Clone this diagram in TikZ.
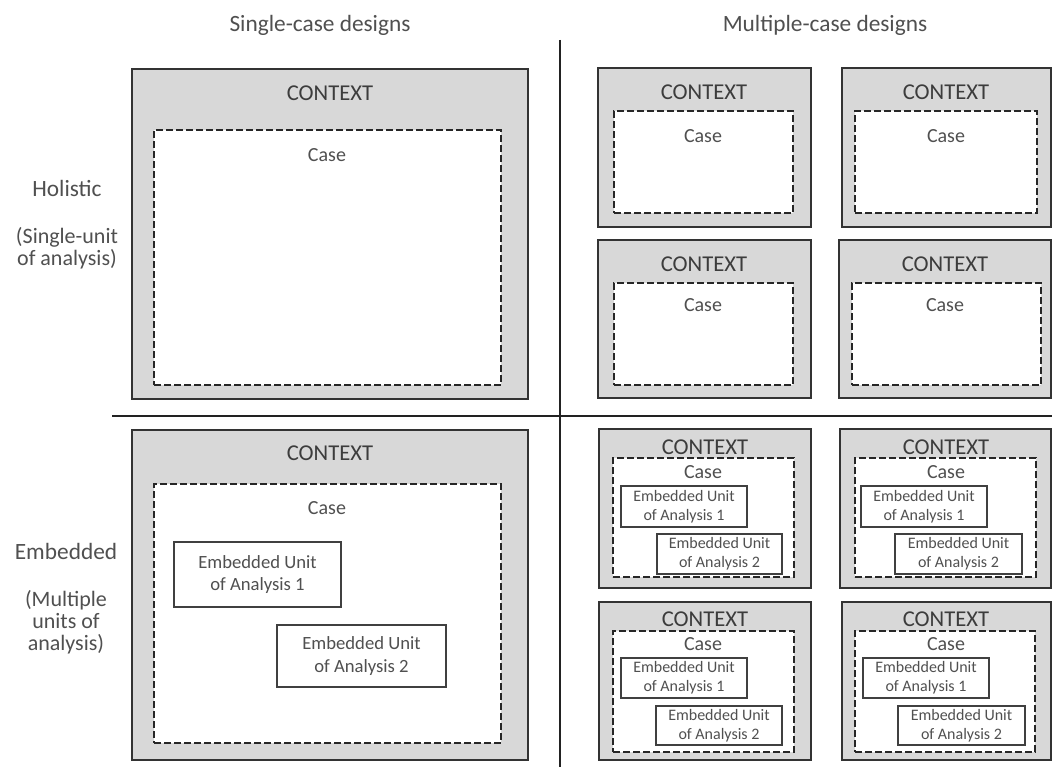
\documentclass[tikz,border=0pt]{standalone}
\usepackage{fontspec}
\setmainfont{Carlito}
\definecolor{ctxfill}{HTML}{D8D8D8}
\definecolor{labeltext}{HTML}{505050}
\definecolor{ctxtext}{HTML}{3C3C3C}
\definecolor{rule}{HTML}{222222}
\begin{document}
\begin{tikzpicture}[x=0.75pt,y=-0.75pt,
  sz/.style 2 args={minimum width=#1*0.75pt, minimum height=#2*0.75pt},
  ctx/.style={draw=black!80, line width=1.3pt, fill=ctxfill, inner sep=0pt},
  casebox/.style={draw=black!85, line width=1.1pt, dash pattern=on 5pt off 2.5pt, fill=white, inner sep=0pt},
  unitbox/.style={draw=black!75, line width=0.8pt, fill=white, inner sep=0pt, align=center, text=labeltext},
  bigunit/.style={unitbox, font=\fontsize{14}{17}\selectfont},
  smallunit/.style={unitbox, font=\fontsize{12}{14.5}\selectfont},
  head/.style={text=labeltext, font=\fontsize{17.5}{20}\selectfont},
  side/.style={text=labeltext, align=center, font=\fontsize{16.5}{16.5}\selectfont},
  ctxlabel/.style={text=ctxtext, font=\fontsize{17}{20}\selectfont},
  caselabel/.style={text=labeltext, font=\fontsize{15}{18}\selectfont},
  divider/.style={draw=rule, line width=1.5pt}
]
\useasboundingbox[fill=white] (0,0) rectangle (1052,767);

% column headings
\node[head] (hsingle) at (320,25) {Single-case designs};
\node[head] (hmulti) at (825,25) {Multiple-case designs};

% row headings
\node[side, font=\fontsize{17.5}{20}\selectfont] (holistic) at (67,188) {Holistic};
\node[side] (holisticsub) at (67,248) {(Single-unit\\of analysis)};
\node[side, font=\fontsize{17.5}{20}\selectfont] (embedded) at (66,551) {Embedded};
\node[side] (embeddedsub) at (66,622) {(Multiple\\units of\\analysis)};

% quadrant dividers
\coordinate (vtop) at (560,40);
\coordinate (vbot) at (560,767);
\coordinate (hleft) at (112,416);
\coordinate (hright) at (1052,416);
\draw[divider] (vtop) -- (vbot);
\draw[divider] (hleft) -- (hright);

% ---- single-case, holistic
\node[ctx, sz={396}{330}] (sh) at (330,234) {};
\node[casebox, sz={347}{255}] (shc) at (327.5,257.5) {};
\node[ctxlabel] (shl) at (330,93) {CONTEXT};
\node[caselabel] (shcl) at (327,155) {Case};

% ---- single-case, embedded
\node[ctx, sz={396}{330}] (se) at (330,595) {};
\node[casebox, sz={347}{259}] (sec) at (327.5,613.5) {};
\node[ctxlabel] (sel) at (330,453) {CONTEXT};
\node[caselabel] (secl) at (327,508) {Case};
\node[bigunit, sz={167}{65}] (seu1) at (257.5,574.5) {Embedded Unit\\of Analysis 1};
\node[bigunit, sz={169}{62}] (seu2) at (361.5,656) {Embedded Unit\\of Analysis 2};

% ---- multiple-case, holistic
\node[ctx, sz={213}{159}] (mh1) at (704.5,147.5) {};
\node[casebox, sz={179}{102}] (mh1c) at (703.5,162) {};
\node[ctxlabel] (mh1l) at (704,92) {CONTEXT};
\node[caselabel] (mh1cl) at (703,136) {Case};

\node[ctx, sz={209}{159}] (mh2) at (946.5,147.5) {};
\node[casebox, sz={182}{102}] (mh2c) at (946,162) {};
\node[ctxlabel] (mh2l) at (946,92) {CONTEXT};
\node[caselabel] (mh2cl) at (946,136) {Case};

\node[ctx, sz={213}{158}] (mh3) at (704.5,319) {};
\node[casebox, sz={179}{102}] (mh3c) at (703.5,334) {};
\node[ctxlabel] (mh3l) at (704,264) {CONTEXT};
\node[caselabel] (mh3cl) at (703,305) {Case};

\node[ctx, sz={212}{158}] (mh4) at (945,319) {};
\node[casebox, sz={189}{102}] (mh4c) at (946.5,334) {};
\node[ctxlabel] (mh4l) at (945,264) {CONTEXT};
\node[caselabel] (mh4cl) at (945,305) {Case};

% ---- multiple-case, embedded
\node[ctx, sz={212}{159}] (me1) at (705,508.5) {};
\node[casebox, sz={181}{119}] (me1c) at (703.5,517.5) {};
\node[ctxlabel] (me1l) at (705,447) {CONTEXT};
\node[caselabel] (me1cl) at (703,472) {Case};
\node[smallunit, sz={126}{41}] (me1u1) at (684,506.5) {Embedded Unit\\of Analysis 1};
\node[smallunit, sz={125}{40}] (me1u2) at (719.5,554) {Embedded Unit\\of Analysis 2};

\node[ctx, sz={211}{159}] (me2) at (945.5,508.5) {};
\node[casebox, sz={181}{119}] (me2c) at (945.5,517.5) {};
\node[ctxlabel] (me2l) at (946,447) {CONTEXT};
\node[caselabel] (me2cl) at (946,472) {Case};
\node[smallunit, sz={126}{41}] (me2u1) at (924,506.5) {Embedded Unit\\of Analysis 1};
\node[smallunit, sz={127}{40}] (me2u2) at (958.5,554) {Embedded Unit\\of Analysis 2};

\node[ctx, sz={212}{158}] (me3) at (705,681) {};
\node[casebox, sz={181}{121}] (me3c) at (703.5,691.5) {};
\node[ctxlabel] (me3l) at (705,619) {CONTEXT};
\node[caselabel] (me3cl) at (703,644) {Case};
\node[smallunit, sz={126}{40}] (me3u1) at (684,678) {Embedded Unit\\of Analysis 1};
\node[smallunit, sz={126}{39}] (me3u2) at (719,725.5) {Embedded Unit\\of Analysis 2};

\node[ctx, sz={209}{158}] (me4) at (946.5,681) {};
\node[casebox, sz={180}{121}] (me4c) at (945,691.5) {};
\node[ctxlabel] (me4l) at (946,619) {CONTEXT};
\node[caselabel] (me4cl) at (946,644) {Case};
\node[smallunit, sz={126}{40}] (me4u1) at (926,678) {Embedded Unit\\of Analysis 1};
\node[smallunit, sz={127}{39}] (me4u2) at (961.5,725.5) {Embedded Unit\\of Analysis 2};
\end{tikzpicture}
\end{document}
